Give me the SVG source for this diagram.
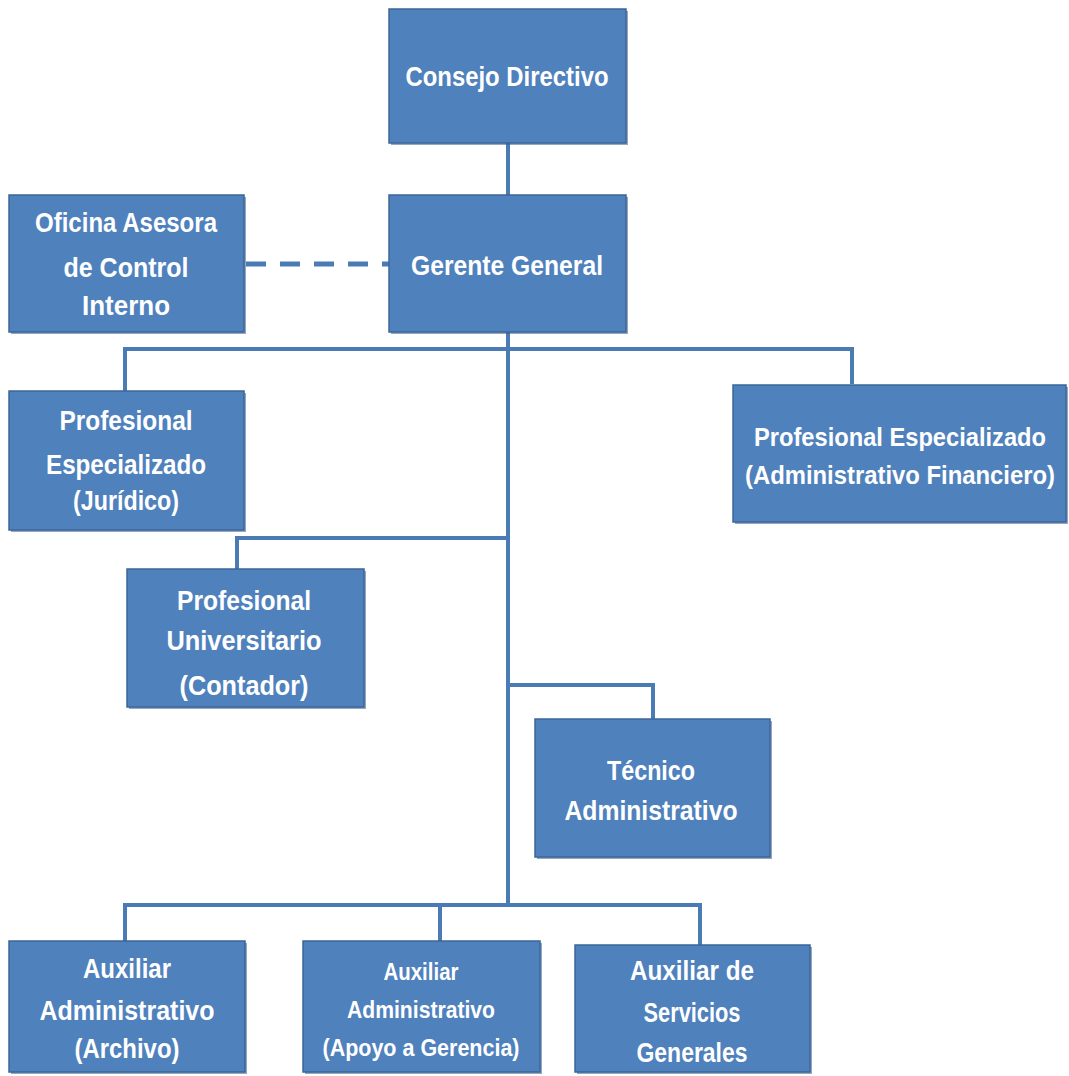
<svg xmlns="http://www.w3.org/2000/svg" width="1069" height="1076" viewBox="0 0 1069 1076">
<style>
.box{fill:#4F81BD;stroke:#3B6699;stroke-width:1.5}
.sh{fill:#3A5E8A;opacity:0.55}
.t{font-family:"Liberation Sans",Arial,sans-serif;font-weight:bold;font-size:28px;fill:#FFFFFF;text-anchor:middle}
.s{font-size:23px}
.m{font-size:25px}
.ln{stroke:#4A7BB5;stroke-width:4;fill:none}
.dash{stroke:#4A7BB5;stroke-width:5;fill:none;stroke-dasharray:20 14}
</style>
<rect width="1069" height="1076" fill="#FFFFFF"/>
<g id="connectors">
<line class="ln" x1="508" y1="143" x2="508" y2="195"/>
<line class="dash" x1="246" y1="264" x2="389" y2="264"/>
<polyline class="ln" points="508,332 508,905"/>
<polyline class="ln" points="125,391 125,349 852,349 852,384"/>
<polyline class="ln" points="237,569 237,538 508,538"/>
<polyline class="ln" points="508,685 653,685 653,719"/>
<polyline class="ln" points="125,941 125,905 700,905 700,945"/>
<line class="ln" x1="440" y1="905" x2="440" y2="941"/>
</g>
<g id="consejo">
<rect class="sh" x="391" y="11" width="237" height="134"/>
<rect class="box" x="389" y="9" width="237" height="134"/>
<text class="t" x="507" y="86" textLength="203" lengthAdjust="spacingAndGlyphs">Consejo Directivo</text>
</g>
<g id="gerente">
<rect class="sh" x="391" y="197" width="237" height="137"/>
<rect class="box" x="389" y="195" width="237" height="137"/>
<text class="t" x="507" y="275" textLength="192" lengthAdjust="spacingAndGlyphs">Gerente General</text>
</g>
<g id="oficina">
<rect class="sh" x="11" y="197" width="235" height="137"/>
<rect class="box" x="9" y="195" width="235" height="137"/>
<text class="t" x="126" y="232" textLength="182" lengthAdjust="spacingAndGlyphs">Oficina Asesora</text>
<text class="t" x="126" y="277" textLength="125" lengthAdjust="spacingAndGlyphs">de Control</text>
<text class="t" x="126" y="315" textLength="88" lengthAdjust="spacingAndGlyphs">Interno</text>
</g>
<g id="juridico">
<rect class="sh" x="11" y="393" width="235" height="139"/>
<rect class="box" x="9" y="391" width="235" height="139"/>
<text class="t" x="126" y="430" textLength="133" lengthAdjust="spacingAndGlyphs">Profesional</text>
<text class="t" x="126" y="474" textLength="160" lengthAdjust="spacingAndGlyphs">Especializado</text>
<text class="t" x="126" y="510" textLength="106" lengthAdjust="spacingAndGlyphs">(Jurídico)</text>
</g>
<g id="financiero">
<rect class="sh" x="735" y="387" width="333" height="137"/>
<rect class="box" x="733" y="385" width="333" height="137"/>
<text class="t m" x="900" y="446" textLength="292" lengthAdjust="spacingAndGlyphs">Profesional Especializado</text>
<text class="t m" x="900" y="484" textLength="310" lengthAdjust="spacingAndGlyphs">(Administrativo Financiero)</text>
</g>
<g id="contador">
<rect class="sh" x="129" y="571" width="237" height="138"/>
<rect class="box" x="127" y="569" width="237" height="138"/>
<text class="t" x="244" y="610" textLength="134" lengthAdjust="spacingAndGlyphs">Profesional</text>
<text class="t" x="244" y="650" textLength="155" lengthAdjust="spacingAndGlyphs">Universitario</text>
<text class="t" x="244" y="695" textLength="129" lengthAdjust="spacingAndGlyphs">(Contador)</text>
</g>
<g id="tecnico">
<rect class="sh" x="537" y="721" width="235" height="138"/>
<rect class="box" x="535" y="719" width="235" height="138"/>
<text class="t" x="651" y="780" textLength="88" lengthAdjust="spacingAndGlyphs">Técnico</text>
<text class="t" x="651" y="820" textLength="173" lengthAdjust="spacingAndGlyphs">Administrativo</text>
</g>
<g id="archivo">
<rect class="sh" x="11" y="943" width="236" height="131"/>
<rect class="box" x="9" y="941" width="236" height="131"/>
<text class="t" x="127" y="978" textLength="88" lengthAdjust="spacingAndGlyphs">Auxiliar</text>
<text class="t" x="127" y="1020" textLength="175" lengthAdjust="spacingAndGlyphs">Administrativo</text>
<text class="t" x="127" y="1058" textLength="105" lengthAdjust="spacingAndGlyphs">(Archivo)</text>
</g>
<g id="apoyo">
<rect class="sh" x="305" y="943" width="237" height="131"/>
<rect class="box" x="303" y="941" width="237" height="131"/>
<text class="t s" x="421" y="980" textLength="75" lengthAdjust="spacingAndGlyphs">Auxiliar</text>
<text class="t s" x="421" y="1018" textLength="148" lengthAdjust="spacingAndGlyphs">Administrativo</text>
<text class="t s" x="421" y="1056" textLength="197" lengthAdjust="spacingAndGlyphs">(Apoyo a Gerencia)</text>
</g>
<g id="servicios">
<rect class="sh" x="577" y="947" width="235" height="127"/>
<rect class="box" x="575" y="945" width="235" height="127"/>
<text class="t" x="692" y="980" textLength="124" lengthAdjust="spacingAndGlyphs">Auxiliar de</text>
<text class="t" x="692" y="1022" textLength="97" lengthAdjust="spacingAndGlyphs">Servicios</text>
<text class="t" x="692" y="1062" textLength="111" lengthAdjust="spacingAndGlyphs">Generales</text>
</g>
</svg>
